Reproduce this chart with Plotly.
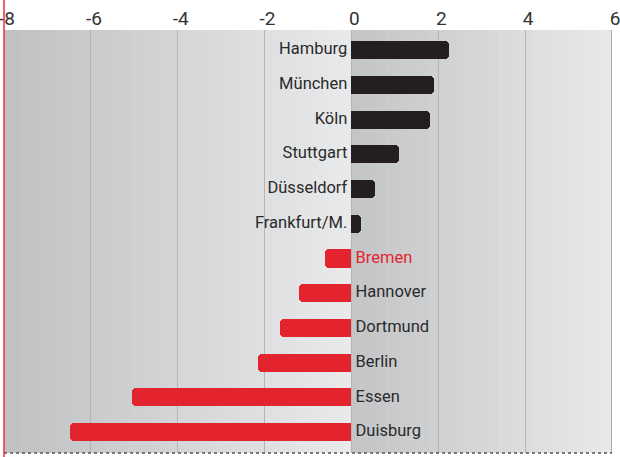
"""Städtevergleich: horizontale Balken mit Verlaufshintergrund."""
from __future__ import annotations

import plotly.graph_objects as go

cities = ["Hamburg", "München", "Köln", "Stuttgart", "Düsseldorf", "Frankfurt/M.",
          "Bremen", "Hannover", "Dortmund", "Berlin", "Essen", "Duisburg"]
values = [2.24, 1.91, 1.80, 1.09, 0.54, 0.22,
          -0.61, -1.21, -1.65, -2.15, -5.06, -6.47]
highlight = "Bremen"
tick_vals = [-8, -6, -4, -2, 0, 2, 4, 6]
tick_text = ["-8", "-6", "-4", "-2", "0", "2", "4", "6"]

DARK = "#231f20"
RED = "#e3242f"
FONT = "Roboto, sans-serif"


def _mix(c0, c1, t):
    return "rgb({},{},{})".format(*[round(a + (b - a) * t) for a, b in zip(c0, c1)])


def _gradient(x0, x1, c0, c1, steps=40):
    """x0..x1 in schmalen Streifen mit Farbverlauf füllen."""
    shapes = []
    w = (x1 - x0) / steps
    for i in range(steps):
        shapes.append(dict(
            type="rect", xref="x", yref="paper",
            x0=x0 + i * w, x1=x0 + (i + 1) * w + 0.01, y0=0, y1=1,
            fillcolor=_mix(c0, c1, (i + 0.5) / steps), line_width=0, layer="below",
        ))
    return shapes


bar_colors = [DARK if v >= 0 else RED for v in values]
label_pos = ["middle left" if v >= 0 else "middle right" for v in values]
label_colors = [RED if c == highlight else "#2a2a2a" for c in cities]

fig = go.Figure()
fig.add_trace(go.Bar(
    x=values, y=cities, orientation="h", width=0.52,
    marker=dict(color=bar_colors, line_width=0, cornerradius=4),
    hoverinfo="x+y", showlegend=False,
))
fig.add_trace(go.Scatter(
    x=[0] * len(cities), y=cities, mode="text", text=[f" {c} " for c in cities],
    textposition=label_pos, textfont=dict(family=FONT, size=16.5, color=label_colors),
    hoverinfo="skip", showlegend=False, cliponaxis=False,
))

shapes = _gradient(-8, 0, (191, 192, 194), (233, 234, 235))
shapes += _gradient(0, 6, (195, 196, 198), (232, 233, 234), steps=30)
# Nulllinie (gepunktet), Rand rechts, Linie unten, roter Rand links
shapes.append(dict(type="line", xref="x", yref="paper", x0=0, x1=0, y0=0, y1=1,
                   line=dict(color="#e7a3ad", width=1, dash="dot"), layer="between"))
shapes.append(dict(type="line", xref="x", yref="paper", x0=6, x1=6, y0=0, y1=1,
                   line=dict(color="#a9aaac", width=2)))
shapes.append(dict(type="line", xref="paper", yref="paper", x0=0, x1=1, y0=0, y1=0,
                   line=dict(color="#555555", width=1.5, dash="dot")))
shapes.append(dict(type="line", xref="paper", yref="paper", x0=0, x1=0, y0=-0.02, y1=1.08,
                   line=dict(color="#e8303a", width=1.5)))

fig.update_layout(
    width=620, height=457,
    margin=dict(l=4, r=8, t=30, b=4, autoexpand=False),
    paper_bgcolor="white", plot_bgcolor="white",
    font=dict(family=FONT, color="#2a2a2a"),
    shapes=shapes,
    bargap=0,
)
fig.update_xaxes(
    range=[-8, 6], side="top", tickvals=tick_vals, ticktext=tick_text,
    tickfont=dict(family=FONT, size=19, color="#333333"),
    ticklabeloverflow="allow", ticklabelshift=3,
    showgrid=True, gridcolor="#b4b5b7", gridwidth=1, automargin=False,
    zeroline=False, showline=False, ticks="", fixedrange=True,
)
fig.update_yaxes(
    range=[11.6, -0.58], showticklabels=False, showgrid=False, automargin=False,
    zeroline=False, showline=False, ticks="", fixedrange=True,
)

# Seitenrand des Browsers entfernen, damit die Grafik bündig bei 0,0 beginnt
fig.write_html("out.html", config={"displayModeBar": False},
               post_script="document.body.style.margin='0';")
